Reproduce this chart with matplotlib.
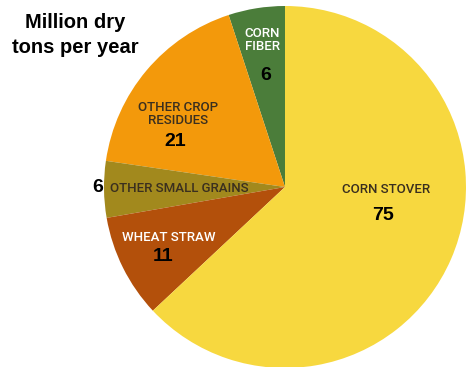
import matplotlib
matplotlib.use("Agg")
import matplotlib.pyplot as plt

# data
labels = ["CORN\nFIBER", "OTHER CROP\nRESIDUES", "OTHER SMALL GRAINS", "WHEAT STRAW", "CORN STOVER"]
values = [6, 21, 6, 11, 75]
colors = ["#4b7d3a", "#f3990b", "#a2891d", "#b3500b", "#f7d83f"]

W, H = 466, 367
fig = plt.figure(figsize=(W / 100, H / 100), dpi=100)

# pie centre and radius in pixels
cx, cy, r = 285, 187, 181
ax = fig.add_axes([(cx - r) / W, 1 - (cy + r) / H, 2 * r / W, 2 * r / H])
ax.pie(values, colors=colors, startangle=90, counterclock=True,
       wedgeprops=dict(linewidth=0))
ax.set_xlim(-1, 1)
ax.set_ylim(-1, 1)
ax.axis("off")

def px(x, y):
    return ((x - cx) / r, (cy - y) / r)

lab_kw = dict(family="Roboto", fontsize=9.5, fontweight="medium", color="#3a2f1f",
              ha="center", va="center", linespacing=1.0)
num_kw = dict(family="Liberation Sans", fontsize=14, fontweight="bold", color="black",
              ha="center", va="center")

# slice labels
ax.text(*px(262, 40), labels[0], **{**lab_kw, "color": "white"})
ax.text(*px(266, 75), str(values[0]), **num_kw)
ax.text(*px(178, 114), labels[1], **lab_kw)
ax.text(*px(175, 142), str(values[1]), **num_kw)
ax.text(*px(110, 189), labels[2], **{**lab_kw, "ha": "left"})
ax.text(*px(98, 188), str(values[2]), **num_kw)
ax.text(*px(169, 238), labels[3], **{**lab_kw, "color": "white"})
ax.text(*px(163, 257), str(values[3]), **num_kw)
ax.text(*px(386, 190), labels[4], **lab_kw)
ax.text(*px(383, 216), str(values[4]), **num_kw)

fig.text(75 / W, 1 - 35 / H, "Million dry\ntons per year", family="Liberation Sans",
         fontsize=14.5, fontweight="bold", ha="center", va="center", linespacing=1.35)

fig.savefig("out.png", dpi=100)
